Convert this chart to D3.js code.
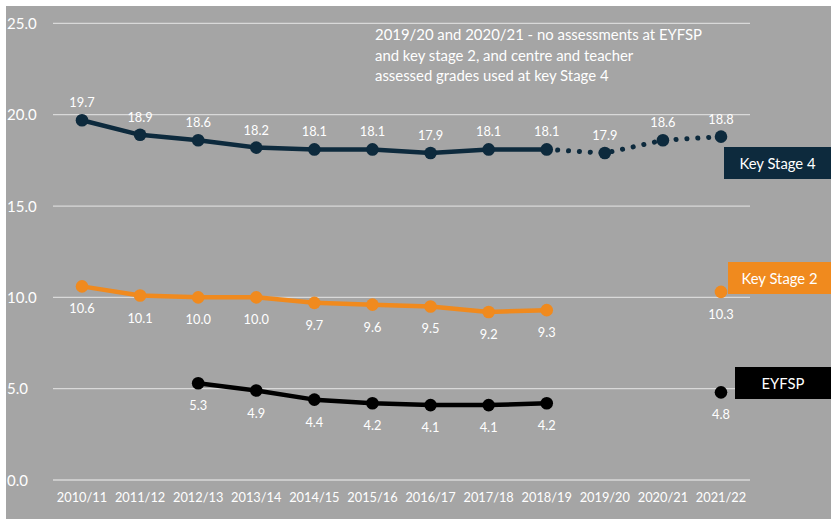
<!DOCTYPE html>
<html>
<head>
<meta charset="utf-8">
<script src="https://cdn.jsdelivr.net/npm/d3@7"></script>
<style>
  html, body { margin: 0; padding: 0; background: #ffffff; }
  svg { display: block; }
  text { font-family: Lato, "Open Sans", "Liberation Sans", sans-serif; fill: #ffffff; }
</style>
</head>
<body>
<svg id="chart" width="831" height="519"></svg>
<script>
// Academic years on the x axis
const years = ["2010/11","2011/12","2012/13","2013/14","2014/15","2015/16","2016/17","2017/18","2018/19","2019/20","2020/21","2021/22"];
// Series values (null = no assessment that year)
const keyStage4 = [19.7, 18.9, 18.6, 18.2, 18.1, 18.1, 17.9, 18.1, 18.1, 17.9, 18.6, 18.8];
const keyStage2 = [10.6, 10.1, 10.0, 10.0, 9.7, 9.6, 9.5, 9.2, 9.3, null, null, 10.3];
const eyfsp     = [null, null, 5.3, 4.9, 4.4, 4.2, 4.1, 4.1, 4.2, null, null, 4.8];
const yTicks = [0, 5, 10, 15, 20, 25];
const note = ["2019/20 and 2020/21 - no assessments at EYFSP",
              "and key stage 2, and centre and teacher",
              "assessed grades used at key Stage 4"];

const svg = d3.select("#chart");
const W = 831, H = 519;

// Grey panel inside a thin white frame
svg.append("rect").attr("x", 6).attr("y", 6).attr("width", W - 6).attr("height", H - 6).attr("fill", "#a5a5a5");

const x = d3.scalePoint().domain(years).range([82, 721]);
const y = d3.scaleLinear().domain([0, 25]).range([480, 23.4]);

// Gridlines
svg.append("g").selectAll("line").data(yTicks).join("line")
  .attr("x1", 53).attr("x2", 750)
  .attr("y1", d => y(d)).attr("y2", d => y(d))
  .attr("stroke", "#d9d9d9").attr("stroke-width", 1.3);

// Y tick labels
svg.append("g").selectAll("text").data(yTicks).join("text")
  .attr("x", 7).attr("y", d => y(d) + 5.5)
  .attr("font-size", 15)
  .text(d => d.toFixed(1));

// X tick labels
svg.append("g").selectAll("text").data(years).join("text")
  .attr("x", d => x(d)).attr("y", 502)
  .attr("text-anchor", "middle").attr("font-size", 12.8)
  .text(d => d);

const line = d3.line()
  .defined(d => d.v != null)
  .x(d => x(d.k)).y(d => y(d.v));

function series(values, color, labelDy, opts = {}) {
  const pts = years.map((k, i) => ({ k, v: values[i], i }));
  const g = svg.append("g");
  const solidEnd = opts.solidEnd != null ? opts.solidEnd : years.length - 1;
  g.append("path")
    .datum(pts.filter(d => d.i <= solidEnd))
    .attr("d", line).attr("fill", "none")
    .attr("stroke", color).attr("stroke-width", 4.5)
    .attr("stroke-linejoin", "round");
  if (opts.solidEnd != null) {
    g.append("path")
      .datum(pts.filter(d => d.i >= solidEnd))
      .attr("d", line).attr("fill", "none")
      .attr("stroke", color).attr("stroke-width", 5)
      .attr("stroke-linecap", "round")
      .attr("stroke-dasharray", "0.1 10.8");
  }
  const valid = pts.filter(d => d.v != null);
  g.selectAll("circle").data(valid).join("circle")
    .attr("cx", d => x(d.k)).attr("cy", d => y(d.v))
    .attr("r", 6.3).attr("fill", color);
  g.selectAll("text").data(valid).join("text")
    .attr("x", d => x(d.k)).attr("y", d => y(d.v) + labelDy)
    .attr("text-anchor", "middle").attr("font-size", 12.8)
    .text(d => d.v.toFixed(1));
}

series(keyStage4, "#0d2a3d", -13, { solidEnd: 8 });
series(keyStage2, "#f08a1e", 27);
series(eyfsp, "#000000", 27);

// Series name tags at the right edge
const tags = [
  { name: "Key Stage 4", color: "#0d2a3d", x: 724, y: 147 },
  { name: "Key Stage 2", color: "#f08a1e", x: 728, y: 262 },
  { name: "EYFSP", color: "#000000", x: 735, y: 367 }
];
const tg = svg.append("g").selectAll("g").data(tags).join("g");
tg.append("rect")
  .attr("x", d => d.x).attr("y", d => d.y)
  .attr("width", d => W - d.x).attr("height", 32)
  .attr("fill", d => d.color);
tg.append("text")
  .attr("x", d => (d.x + W) / 2).attr("y", d => d.y + 21.5)
  .attr("text-anchor", "middle").attr("font-size", 14.8)
  .text(d => d.name);

// Note about the pandemic years
svg.append("g").selectAll("text").data(note).join("text")
  .attr("x", 375).attr("y", (d, i) => 40 + i * 20.5)
  .attr("font-size", 14.9)
  .text(d => d);
</script>
</body>
</html>
